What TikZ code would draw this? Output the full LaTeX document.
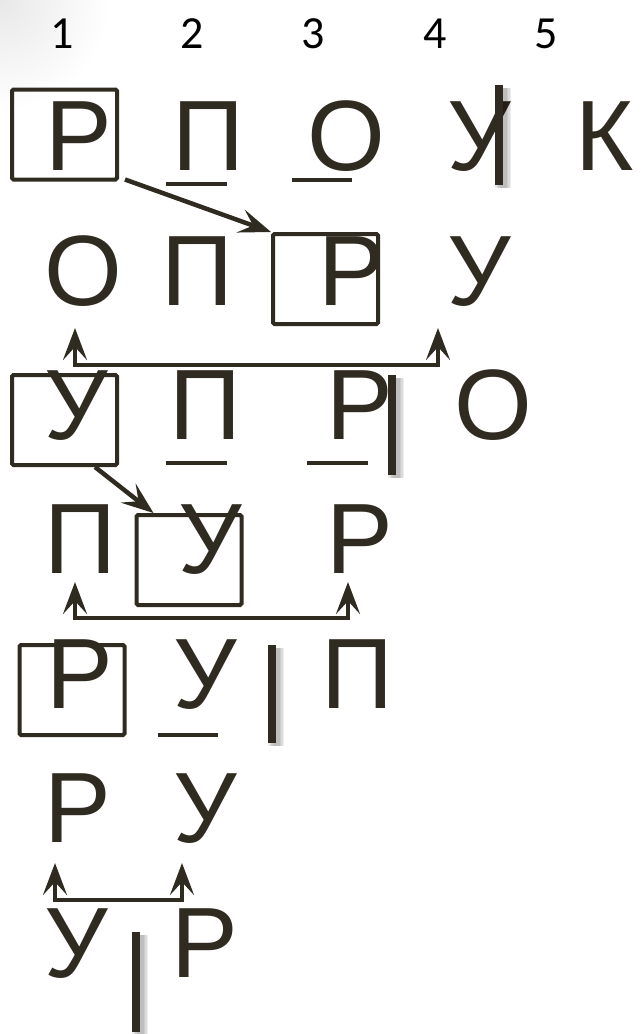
\documentclass[tikz,border=0pt]{standalone}
\usepackage{fontspec}
\setmainfont{Liberation Sans}
\newfontfamily\digitfont{Carlito}
\usetikzlibrary{arrows.meta,calc}
\definecolor{ink}{RGB}{48,43,32}
\begin{document}
\begin{tikzpicture}[x=1pt,y=-1pt,
  letter/.style={inner sep=0pt,anchor=base,text=ink,font=\fontsize{100}{100}\selectfont},
  digit/.style={inner sep=0pt,anchor=base,text=black,font=\digitfont\fontsize{46}{46}\selectfont},
  frame/.style={draw=ink,line width=4pt,rounded corners=1.5pt,inner sep=0pt,minimum width=105pt,minimum height=90pt},
  uline/.style={draw=ink,line width=4pt},
  cutbar/.style={draw=ink,line width=8.5pt},
  cutshadow/.style={draw=black,opacity=0.07},
  conn/.style={draw=ink,line width=4.5pt,-{Stealth[length=32pt,width=24pt,inset=13pt]}},
  bconn/.style={draw=ink,line width=4pt,{Stealth[length=32pt,width=24pt,inset=13pt]}-{Stealth[length=32pt,width=24pt,inset=13pt]}},
]
\useasboundingbox (0,0) rectangle (641,1034);
% faint slide background in the corner
\begin{scope}
\clip (0,0) rectangle (641,1034);
\shade[inner color=black!9,outer color=white] (0,0) circle[radius=110pt];
\end{scope}
% column numbers
\node[digit] (d1) at (62,48) {1};
\node[digit] (d2) at (192,48) {2};
\node[digit] (d3) at (313,48) {3};
\node[digit] (d4) at (435,48) {4};
\node[digit] (d5) at (546,48) {5};
% frames
\node[frame] (b1) at (64.5,134.5) {};
\node[frame] (b2) at (325.5,279) {};
\node[frame] (b3) at (64.5,420) {};
\node[frame] (b4) at (189,560) {};
\node[frame] (b5) at (72,690) {};
% row 1
\node[letter] (r1c1) at (79,170) {Р};
\node[letter] (r1c2) at (208,170) {П};
\node[letter] (r1c3) at (346,170) {О};
\node[letter] (r1c4) at (479,170) {У};
\node[letter] (r1c5) at (605,170) {К};
% row 2
\node[letter] (r2c1) at (83,305) {О};
\node[letter] (r2c2) at (197,305) {П};
\node[letter] (r2c3) at (352,305) {Р};
\node[letter] (r2c4) at (479,305) {У};
% row 3
\node[letter] (r3c1) at (76,439) {У};
\node[letter] (r3c2) at (205,439) {П};
\node[letter] (r3c3) at (360,439) {Р};
\node[letter] (r3c4) at (493,439) {О};
% row 4
\node[letter] (r4c1) at (80,573) {П};
\node[letter] (r4c2) at (210,573) {У};
\node[letter] (r4c3) at (360,573) {Р};
% row 5
\node[letter] (r5c1) at (80,708) {Р};
\node[letter] (r5c2) at (205,708) {У};
\node[letter] (r5c3) at (357,708) {П};
% row 6
\node[letter] (r6c1) at (78,842) {Р};
\node[letter] (r6c2) at (205,842) {У};
% row 7
\node[letter] (r7c1) at (76,977) {У};
\node[letter] (r7c2) at (205,977) {Р};
% underlines
\draw[uline] (166,184) -- (227,184);
\draw[uline] (292,180) -- (352,180);
\draw[uline] (166,463) -- (227,463);
\draw[uline] (307,463) -- (368,463);
\draw[uline] (158,735) -- (218,735);
% cut bars with soft shadow
\foreach \x/\ya/\yb in {499/85/185, 392/375/475, 272/645/743, 136/932/1032}{
  \foreach \w in {16,13,10,7}{
    \draw[cutshadow,line width=\w pt] (\x+4,\ya+3) -- (\x+4,\yb+3);
  }
  \draw[cutbar] (\x,\ya) -- (\x,\yb);
}
% moves
\draw[conn] ([xshift=6pt,yshift=2pt]b1.south east) -- (b2.north west);
\draw[conn] ([xshift=-24pt]b3.south east) -- ([xshift=19pt]b4.north west);
% swaps
\coordinate (s1a) at (75,328); \coordinate (s1b) at (75,365);
\coordinate (s1c) at (438,365); \coordinate (s1d) at (438,328);
\draw[bconn] (s1a) -- (s1b) -- (s1c) -- (s1d);
\coordinate (s2a) at (75,582); \coordinate (s2b) at (75,618);
\coordinate (s2c) at (348,618); \coordinate (s2d) at (348,582);
\draw[bconn] (s2a) -- (s2b) -- (s2c) -- (s2d);
\coordinate (s3a) at (55,863); \coordinate (s3b) at (55,900);
\coordinate (s3c) at (182,900); \coordinate (s3d) at (182,863);
\draw[bconn] (s3a) -- (s3b) -- (s3c) -- (s3d);
\end{tikzpicture}
\end{document}
